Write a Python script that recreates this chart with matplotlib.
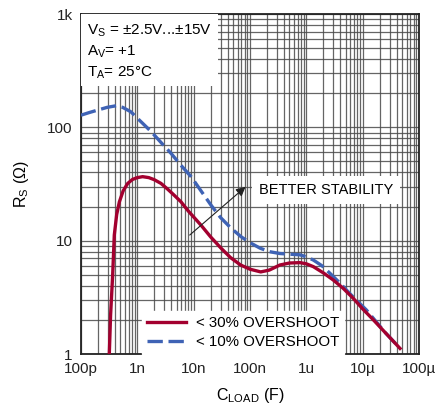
import matplotlib
matplotlib.use("Agg")
import matplotlib.pyplot as plt
from matplotlib.patches import Rectangle
from matplotlib.ticker import FixedLocator, LogLocator, NullFormatter

plt.rcParams["font.family"] = ["Liberation Sans", "DejaVu Sans"]
plt.rcParams["mathtext.fontset"] = "custom"
plt.rcParams["mathtext.rm"] = "Liberation Sans"
plt.rcParams["mathtext.it"] = "Liberation Sans"

# < 30% overshoot (solid red)
c30 = [3.18e-10, 3.35e-10, 3.65e-10, 3.9e-10, 4.3e-10, 4.8e-10, 5.6e-10, 6.75e-10, 8.2e-10,
       1.0e-9, 1.24e-9, 1.6e-9, 2.0e-9, 2.63e-9, 3.5e-9, 4.5e-9, 5.96e-9, 8e-9,
       1.35e-8, 2e-8, 3.05e-8, 4.5e-8, 6.8e-8, 1.0e-7, 1.55e-7, 2.2e-7, 3.4e-7,
       5e-7, 7.7e-7, 1.0e-6, 1.33e-6, 2e-6, 3e-6, 4.5e-6, 6.8e-6, 1e-5,
       1.55e-5, 2.5e-5, 4.6e-5]
r30 = [1.0, 2.2, 5.0, 11.2, 17, 22, 27.5, 32, 34.7,
       36, 36.7, 36, 34.5, 32, 28.3, 25.2, 22, 18.3,
       13.7, 10.8, 8.6, 7.1, 6.1, 5.6, 5.3, 5.5, 6.1,
       6.35, 6.4, 6.25, 5.9, 5.2, 4.5, 3.8, 3.1, 2.5,
       2.0, 1.55, 1.12]

# < 10% overshoot (dashed blue)
c10 = [1e-10, 1.4e-10, 1.98e-10, 2.9e-10, 4.2e-10, 5.5e-10, 7.7e-10, 1.1e-9, 1.75e-9,
       2.6e-9, 3.96e-9, 6e-9, 9e-9, 1.35e-8, 2.03e-8, 3.0e-8, 4.6e-8, 7e-8,
       1.0e-7, 1.5e-7, 2.2e-7, 3.4e-7, 5e-7, 7.7e-7, 1.0e-6, 1.33e-6, 1.9e-6,
       2.63e-6, 4e-6, 5.96e-6, 8.5e-6, 1.17e-5, 1.7e-5, 2.5e-5, 4.4e-5]
r10 = [128, 135, 142, 150, 155, 150, 137, 115, 92,
       74, 59, 46, 36.7, 27.5, 20.6, 16, 12.9, 10.8,
       9.6, 8.6, 8.0, 7.7, 7.6, 7.5, 7.2, 6.75, 6.0,
       5.15, 4.2, 3.4, 2.85, 2.44, 1.95, 1.55, 1.15]

xticks = [1e-10, 1e-9, 1e-8, 1e-7, 1e-6, 1e-5, 1e-4]
xlabels = ["100p", "1n", "10n", "100n", "1u", "10µ", "100µ"]
yticks = [1, 10, 100, 1000]
ylabels = ["1", "10", "100", "1k"]

RED = "#a3002f"
BLUE = "#3f63b5"
GRID = "#4a4a4a"

fig = plt.figure(figsize=(4.39, 4.09), dpi=100)
ax = fig.add_axes([81 / 439, 1 - 354 / 409, 338 / 439, 340 / 409])
ax.set_xscale("log")
ax.set_yscale("log")
ax.set_xlim(1e-10, 1e-4)
ax.set_ylim(1, 1000)

ax.xaxis.set_major_locator(FixedLocator(xticks))
ax.set_xticklabels(xlabels)
ax.yaxis.set_major_locator(FixedLocator(yticks))
ax.set_yticklabels(ylabels)
ax.xaxis.set_minor_locator(LogLocator(base=10, subs=range(2, 10), numticks=20))
ax.yaxis.set_minor_locator(LogLocator(base=10, subs=range(2, 10), numticks=20))
ax.xaxis.set_minor_formatter(NullFormatter())
ax.yaxis.set_minor_formatter(NullFormatter())
ax.tick_params(which="both", length=0, labelsize=11, pad=6, colors="#222222")
ax.grid(which="both", color=GRID, linewidth=0.9, alpha=0.85)
for s in ax.spines.values():
    s.set_linewidth(1.3)
    s.set_color("#222222")

ax.plot(c30, r30, color=RED, lw=2.4, label="< 30% OVERSHOOT", zorder=4)
ax.plot(c10, r10, color=BLUE, lw=2.4, ls=(0, (4.6, 1.7)), label="< 10% OVERSHOOT", zorder=3)

ax.set_xlabel(r"C$_{\mathrm{LOAD}}$ (F)", fontsize=11.5, labelpad=7)
ax.set_ylabel(r"R$_{\mathrm{S}}$ ($\Omega$)", fontsize=11.5, labelpad=12)

# conditions box
ax.add_patch(Rectangle((0, 0.788), 0.405, 0.212, transform=ax.transAxes,
                       facecolor="white", edgecolor="none", zorder=5))
tx = 0.018
ax.text(tx, 0.95, r"V$_{\mathrm{S}}$ = ±2.5V...±15V", transform=ax.transAxes,
        fontsize=11, va="center", ha="left", zorder=6)
ax.text(tx, 0.888, r"A$_{\mathrm{V}}$= +1", transform=ax.transAxes,
        fontsize=11, va="center", ha="left", zorder=6)
ax.text(tx, 0.826, r"T$_{\mathrm{A}}$= 25°C", transform=ax.transAxes,
        fontsize=11, va="center", ha="left", zorder=6)

ax.annotate("", xy=(9.1e-8, 31), xytext=(7.8e-9, 10.8),
            arrowprops=dict(arrowstyle="-|>", color="#222222", lw=0.8,
                            mutation_scale=14), zorder=6)
ax.text(2.24e-6, 28, "BETTER STABILITY", fontsize=10.5, ha="center", va="center", zorder=6,
        bbox=dict(facecolor="white", edgecolor="none", pad=5))

leg = ax.legend(loc="lower left", bbox_to_anchor=(0.18, 0.0), fontsize=10.8,
                frameon=True, fancybox=False, framealpha=1, edgecolor="white",
                handlelength=2.6, borderpad=0.35, labelspacing=0.3, handletextpad=0.65,
                borderaxespad=0.0)
leg.set_zorder(7)

fig.savefig("out.png", dpi=100)
